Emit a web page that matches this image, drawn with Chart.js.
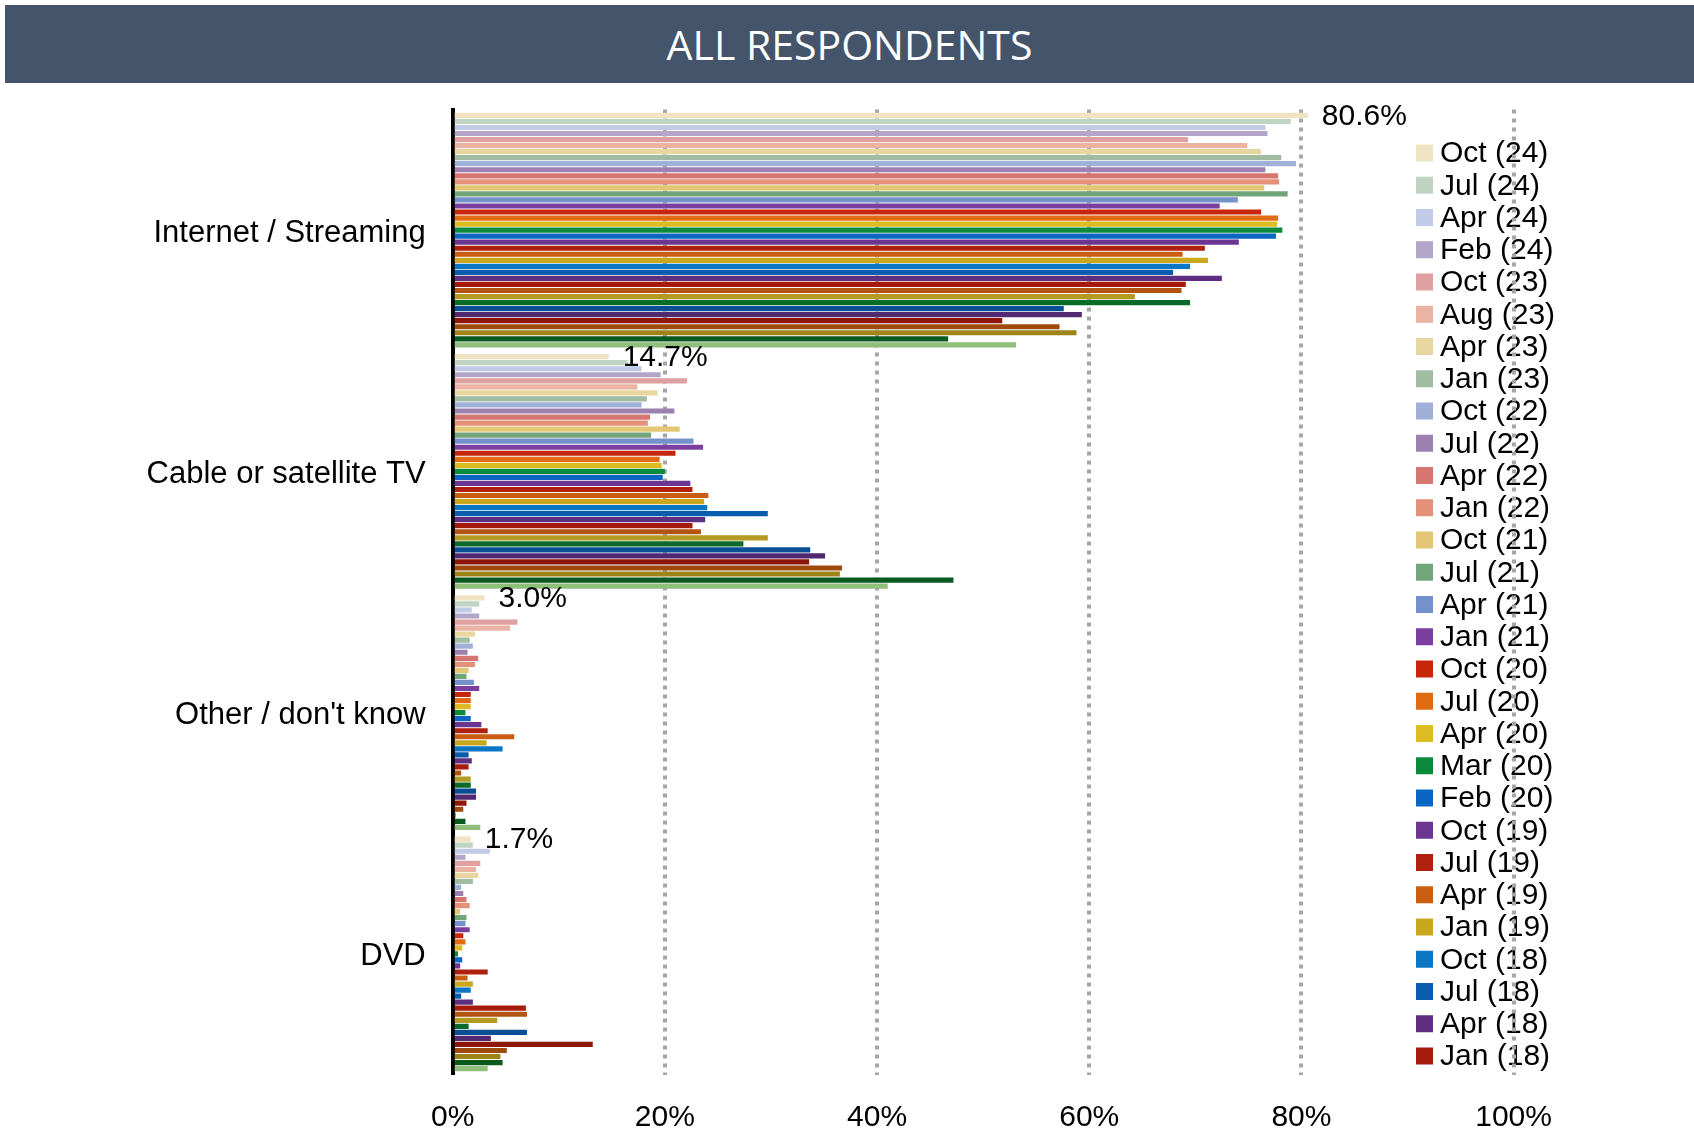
<!DOCTYPE html>
<html>
<head>
<meta charset="utf-8">
<script src="https://cdn.jsdelivr.net/npm/chart.js@4.4.1/dist/chart.umd.min.js"></script>
<style>
  body { margin: 0; background: #fff; }
  #wrap { position: relative; width: 1694px; height: 1132px; }
  #title {
    position: absolute; left: 5px; top: 5px; width: 1689px; height: 78px;
    background: #44546A; color: #fff;
    font: 41px "Open Sans", sans-serif; line-height: 78px; text-align: center;
  }
</style>
</head>
<body>
<div id="wrap">
  <canvas id="respChart" width="1694" height="1132"></canvas>
  <div id="title">ALL RESPONDENTS</div>
</div>
<script>
const categories = ['Internet / Streaming', 'Cable or satellite TV', "Other / don't know", 'DVD'];

// survey waves, newest first (only the first 29 appear in the legend)
const waves = ['Oct (24)', 'Jul (24)', 'Apr (24)', 'Feb (24)', 'Oct (23)', 'Aug (23)', 'Apr (23)', 'Jan (23)',
  'Oct (22)', 'Jul (22)', 'Apr (22)', 'Jan (22)', 'Oct (21)', 'Jul (21)', 'Apr (21)', 'Jan (21)',
  'Oct (20)', 'Jul (20)', 'Apr (20)', 'Mar (20)', 'Feb (20)', 'Oct (19)', 'Jul (19)', 'Apr (19)',
  'Jan (19)', 'Oct (18)', 'Jul (18)', 'Apr (18)', 'Jan (18)',
  'Oct (17)', 'Jul (17)', 'Apr (17)', 'Jan (17)', 'Oct (16)', 'Jul (16)', 'Apr (16)', 'Jan (16)', 'Oct (15)', 'Jul (15)'];

const colors = ['#EFE3C4', '#C0D4C2', '#C1CAE6', '#B3A5C8', '#DFA0A0', '#EBB3A3', '#E8D6A0', '#A0BDA2',
  '#A0B0D8', '#9B80B0', '#D67670', '#E4917A', '#E4C776', '#72A57A', '#7491CC', '#7B3FA0',
  '#C8260A', '#E06B12', '#DDBB22', '#0A8A3A', '#0A66C2', '#6B3590', '#B0200E', '#C95E12',
  '#C9A820', '#0A76C4', '#0A5CAE', '#5E2F80', '#A61C0C',
  '#B35410', '#B39A20', '#0A6A2A', '#0A4E96', '#522870', '#8E1608', '#9E4A0C', '#9E8418', '#0A5A20', '#8FBF7A'];

const internet = [80.6, 79.0, 76.6, 76.8, 69.3, 74.9, 76.2, 78.1, 79.5, 76.6, 77.8, 77.9, 76.5, 78.7, 74.0, 72.3,
  76.2, 77.8, 77.7, 78.2, 77.6, 74.1, 70.9, 68.8, 71.2, 69.5, 67.9, 72.5, 69.1,
  68.7, 64.3, 69.5, 57.6, 59.3, 51.8, 57.2, 58.8, 46.7, 53.1];
const cable = [14.7, 16.5, 17.8, 19.6, 22.1, 17.4, 19.3, 18.3, 17.8, 20.9, 18.6, 18.4, 21.4, 18.7, 22.7, 23.6,
  21.0, 19.5, 19.7, 20.0, 19.8, 22.4, 22.6, 24.1, 23.7, 24.0, 29.7, 23.8, 22.6,
  23.4, 29.7, 27.4, 33.7, 35.1, 33.6, 36.7, 36.5, 47.2, 41.0];
const other = [3.0, 2.5, 1.8, 2.5, 6.1, 5.4, 2.1, 1.6, 1.9, 1.4, 2.4, 2.1, 1.5, 1.3, 2.0, 2.5,
  1.7, 1.7, 1.7, 1.2, 1.7, 2.7, 3.3, 5.8, 3.2, 4.7, 1.5, 1.8, 1.5,
  0.8, 1.7, 1.7, 2.2, 2.2, 1.3, 1.0, 0.3, 1.2, 2.6];
const dvd = [1.7, 1.9, 3.5, 1.2, 2.6, 2.2, 2.4, 1.9, 0.8, 1.0, 1.3, 1.6, 0.7, 1.3, 1.2, 1.6,
  1.0, 1.2, 0.9, 0.5, 0.9, 0.7, 3.3, 1.4, 1.9, 1.7, 0.8, 1.9, 6.9,
  7.0, 4.2, 1.5, 7.0, 3.6, 13.2, 5.1, 4.5, 4.7, 3.3];

const xTicks = [0, 20, 40, 60, 80, 100];
const legendCount = 29;
const FONT = '"Liberation Sans", Arial, sans-serif';

const datasets = waves.map((w, i) => ({
  label: w,
  data: [internet[i], cable[i], other[i], dvd[i]],
  backgroundColor: colors[i],
  borderWidth: 0,
  barPercentage: 0.86,
  categoryPercentage: 0.976
}));

// legend drawn by hand so it can sit over the plot, under the gridlines
const sideLegend = {
  id: 'sideLegend',
  beforeDraw(chart) {
    const ctx = chart.ctx;
    ctx.save();
    ctx.font = '30px ' + FONT;
    ctx.textBaseline = 'middle';
    for (let i = 0; i < legendCount; i++) {
      const cy = 153 + i * 32.25;
      ctx.fillStyle = colors[i];
      ctx.fillRect(1416, cy - 8.5, 17, 17);
      ctx.fillStyle = '#000';
      ctx.fillText(waves[i], 1440, cy + 1);
    }
    ctx.restore();
  }
};

// value labels on the newest wave only
const firstLabels = {
  id: 'firstLabels',
  afterDatasetsDraw(chart) {
    const ctx = chart.ctx;
    const meta = chart.getDatasetMeta(0);
    ctx.save();
    ctx.font = '30px ' + FONT;
    ctx.fillStyle = '#000';
    ctx.textBaseline = 'middle';
    meta.data.forEach((bar, j) => {
      ctx.fillText(datasets[0].data[j].toFixed(1) + '%', bar.x + 14, bar.y + 1);
    });
    ctx.restore();
  }
};

const Resp = document.getElementById('respChart');

new Chart(Resp, {
  type: 'bar',
  data: { labels: categories, datasets: datasets },
  options: {
    indexAxis: 'y',
    responsive: false,
    animation: false,
    devicePixelRatio: 1,
    layout: { padding: { top: 109.5, right: 180.4, bottom: 0, left: 0 } },
    plugins: {
      legend: { display: false },
      tooltip: { enabled: false }
    },
    scales: {
      x: {
        min: 0,
        max: 100,
        afterBuildTicks: (s) => { s.ticks = xTicks.map(v => ({ value: v })); },
        afterFit: (s) => { s.height = 57.5; },
        ticks: {
          callback: (v) => v + '%',
          color: '#000',
          padding: 25,
          font: { family: FONT, size: 30 }
        },
        grid: {
          drawTicks: false,
          lineWidth: 4,
          color: (c) => (c.tick && c.tick.value === 0 ? 'rgba(0,0,0,0)' : '#A6A6A6')
        },
        border: { display: false, dash: [4, 5] }
      },
      y: {
        afterFit: (s) => { s.width = 452.7; },
        ticks: {
          color: '#000',
          padding: 27,
          labelOffset: 3,
          font: { family: FONT, size: 31 }
        },
        grid: { display: false, drawTicks: false },
        border: { display: true, color: '#000', width: 4 }
      }
    }
  },
  plugins: [sideLegend, firstLabels]
});
</script>
</body>
</html>
